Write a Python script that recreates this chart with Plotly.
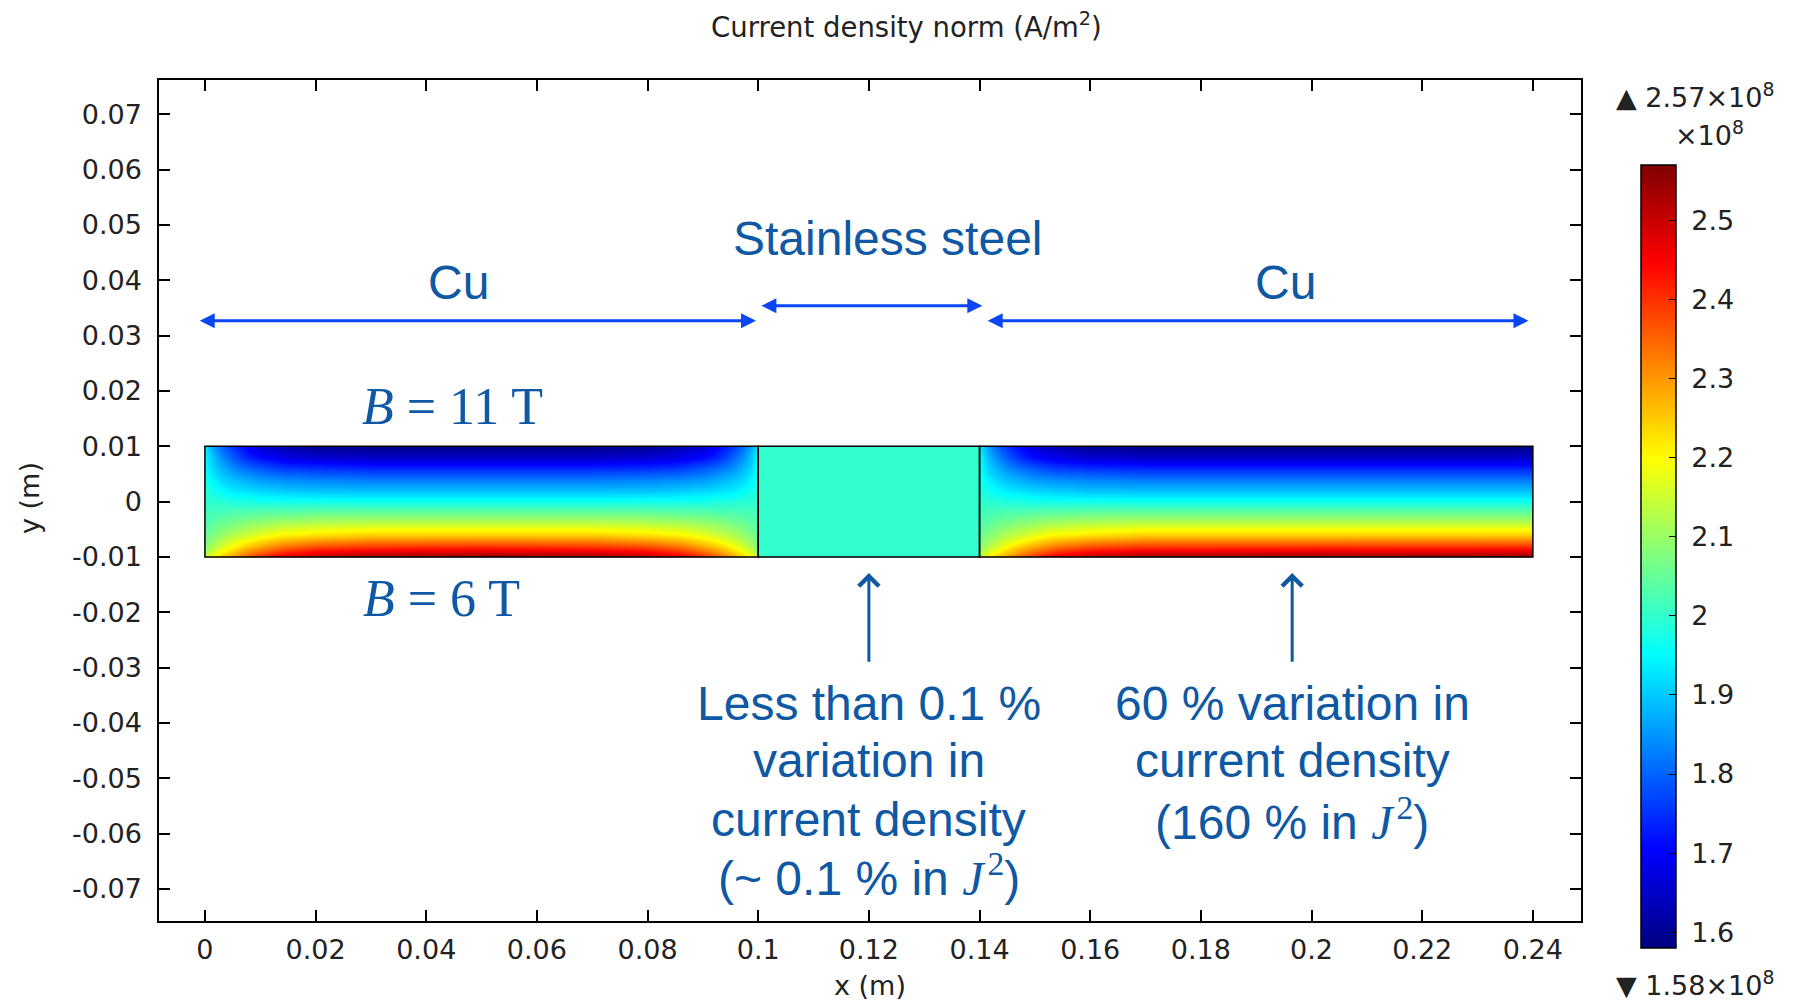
import plotly.graph_objects as go

# ---------------- data ----------------
x_tick_vals = [0, 0.02, 0.04, 0.06, 0.08, 0.1, 0.12, 0.14, 0.16, 0.18, 0.2, 0.22, 0.24]
x_tick_text = ["0", "0.02", "0.04", "0.06", "0.08", "0.1", "0.12", "0.14", "0.16", "0.18", "0.2", "0.22", "0.24"]
y_tick_vals = [-0.07, -0.06, -0.05, -0.04, -0.03, -0.02, -0.01, 0, 0.01, 0.02, 0.03, 0.04, 0.05, 0.06, 0.07]
y_tick_text = ["-0.07", "-0.06", "-0.05", "-0.04", "-0.03", "-0.02", "-0.01", "0",
               "0.01", "0.02", "0.03", "0.04", "0.05", "0.06", "0.07"]
cbar_tick_vals = [1.6, 1.7, 1.8, 1.9, 2.0, 2.1, 2.2, 2.3, 2.4, 2.5]
cbar_tick_text = ["1.6", "1.7", "1.8", "1.9", "2", "2.1", "2.2", "2.3", "2.4", "2.5"]
J_min = 1.58   # x1e8 A/m^2
J_max = 2.57

# geometry of the conductor
cu_left = (0.0, 0.1)
steel = (0.1, 0.14)
cu_right = (0.14, 0.24)
strip_y = (-0.01, 0.01)

# sampling levels across the strip (top -> bottom)
y_levels = [0.01, 0.008, 0.006, 0.004, 0.002, 0.0, -0.002, -0.004, -0.006, -0.008, -0.01]

# distance from a Cu end (interface) and J profile (x1e8, top -> bottom) read at that distance
end_dist = [0.0, 0.0015, 0.003, 0.005, 0.0075, 0.01, 0.014, 0.02, 0.03]
prof_d0 = [1.93, 1.95, 1.96, 1.97, 1.985, 2.00, 2.015, 2.03, 2.05, 2.08, 2.14]
prof_d1 = [1.86, 1.89, 1.91, 1.94, 1.965, 1.99, 2.02, 2.04, 2.08, 2.12, 2.20]
prof_d2 = [1.80, 1.84, 1.88, 1.91, 1.95, 1.99, 2.02, 2.06, 2.10, 2.16, 2.25]
prof_d3 = [1.75, 1.79, 1.84, 1.89, 1.93, 1.98, 2.03, 2.07, 2.13, 2.20, 2.30]
prof_d4 = [1.70, 1.74, 1.81, 1.87, 1.92, 1.98, 2.03, 2.09, 2.15, 2.25, 2.36]
prof_d5 = [1.66, 1.71, 1.79, 1.85, 1.91, 1.97, 2.04, 2.10, 2.18, 2.28, 2.41]
prof_d6 = [1.63, 1.68, 1.76, 1.84, 1.90, 1.97, 2.04, 2.12, 2.21, 2.33, 2.47]
prof_d7 = [1.60, 1.66, 1.75, 1.83, 1.89, 1.97, 2.05, 2.13, 2.23, 2.37, 2.52]
prof_d8 = [1.59, 1.65, 1.74, 1.82, 1.89, 1.965, 2.05, 2.14, 2.25, 2.39, 2.55]
end_profiles = [prof_d0, prof_d1, prof_d2, prof_d3, prof_d4, prof_d5, prof_d6, prof_d7, prof_d8]
interior_profile = [1.59, 1.65, 1.74, 1.82, 1.89, 1.965, 2.05, 2.14, 2.25, 2.40, 2.56]
steel_J = 2.0

# ---------------- styling ----------------
TEXT_BLUE = "#0E58A4"
ARROW_BLUE = "#0A46F5"
AX_FONT = dict(family="DejaVu Sans", size=27, color="#222222")
TITLE_FONT = dict(family="DejaVu Sans", size=27.5, color="#222222")
ANN_FONT = dict(family="Liberation Sans, Arial", size=48, color=TEXT_BLUE)
SERIF_FONT = dict(family="Liberation Serif, Times New Roman", size=52, color=TEXT_BLUE)

jet = [[0.0, "rgb(0,0,128)"], [0.125, "rgb(0,0,255)"], [0.375, "rgb(0,255,255)"],
       [0.625, "rgb(255,255,0)"], [0.875, "rgb(255,0,0)"], [1.0, "rgb(128,0,0)"]]

EPS = 1e-6


def padded(coords, cols):
    """Repeat the outer samples a hair inside the edges so the heatmap ends at the boundary."""
    c = [coords[0], coords[0] + EPS] + coords[1:-1] + [coords[-1] - EPS, coords[-1]]
    v = [cols[0]] + cols + [cols[-1]]
    return c, v


def block_heatmap(xs, cols, show_scale=False):
    ys = list(reversed(y_levels))
    cols_asc = [list(reversed(c)) for c in cols]
    xs_p, cols_p = padded(xs, cols_asc)
    rows = [[cols_p[j][i] for j in range(len(xs_p))] for i in range(len(ys))]
    ys_p, rows_p = padded(ys, rows)
    return go.Heatmap(
        x=xs_p, y=ys_p, z=rows_p, zmin=J_min, zmax=J_max, colorscale=jet,
        zsmooth="best", showscale=show_scale, hoverinfo="skip",
        colorbar=dict(
            thickness=35, thicknessmode="pixels", len=783, lenmode="pixels",
            x=(1641 - 159) / 1422, xanchor="left", y=(921 - 165) / 841, yanchor="top",
            xpad=0, ypad=0, outlinewidth=1.5, outlinecolor="black",
            ticks="inside", ticklen=7, tickwidth=1.2, tickcolor="black",
            tickvals=cbar_tick_vals, ticktext=["\u00a0" + t for t in cbar_tick_text],
            tickfont=AX_FONT,
        ),
    )


# left copper block: both ends redistribute current
left_x = [cu_left[0] + d for d in end_dist] + [(cu_left[0] + cu_left[1]) / 2] + \
         [cu_left[1] - d for d in reversed(end_dist)]
left_cols = end_profiles + [interior_profile] + list(reversed(end_profiles))

# right copper block: only the steel side redistributes
right_x = [cu_right[0] + d for d in end_dist] + [cu_right[1]]
right_cols = end_profiles + [interior_profile]

fig = go.Figure()
fig.add_trace(block_heatmap(left_x, left_cols, show_scale=True))
fig.add_trace(go.Heatmap(x=list(steel), y=list(strip_y), z=[[steel_J]], zmin=J_min, zmax=J_max,
                         colorscale=jet, showscale=False, hoverinfo="skip"))
fig.add_trace(block_heatmap(right_x, right_cols))

# block outlines
for (bx0, bx1) in [cu_left, steel, cu_right]:
    fig.add_shape(type="rect", xref="x", yref="y", x0=bx0, x1=bx1, y0=strip_y[0], y1=strip_y[1],
                  line=dict(color="black", width=1.5), fillcolor="rgba(0,0,0,0)")

ann = []
# material span arrows
spans = [(-0.0012, 0.0996, 0.0327), (0.1003, 0.1405, 0.0354), (0.1412, 0.2392, 0.0327)]
for (a0, a1, ya) in spans:
    ann.append(dict(x=a1, y=ya, ax=a0, ay=ya, xref="x", yref="y", axref="x", ayref="y",
                    text="", showarrow=True, arrowhead=2, startarrowhead=2, arrowside="end+start",
                    arrowwidth=3, arrowsize=1, startarrowsize=1, arrowcolor=ARROW_BLUE,
                    standoff=0, startstandoff=0))
# labels
ann.append(dict(x=0.0458, y=0.0396, text="Cu", font=ANN_FONT))
ann.append(dict(x=0.1234, y=0.0476, text="Stainless steel", font=ANN_FONT))
ann.append(dict(x=0.1953, y=0.0396, text="Cu", font=ANN_FONT))
ann.append(dict(x=0.0447, y=0.0172, text="<i>B</i> = 11 T", font=SERIF_FONT))
ann.append(dict(x=0.0427, y=-0.0176, text="<i>B</i> = 6 T", font=SERIF_FONT))

J2 = "<span style='font-family:Liberation Serif'><i>J</i>\u200a<sup>2</sup></span>"
left_lines = ["Less than 0.1 %", "variation in", "current density", "(~ 0.1 % in " + J2 + ")"]
right_lines = ["60 % variation in", "current density", "(160 % in " + J2 + ")"]
line_y = [-0.0364, -0.0468, -0.0574, -0.0674]
for i, t in enumerate(left_lines):
    ann.append(dict(x=0.12, y=line_y[i], text=t, font=ANN_FONT))
for i, t in enumerate(right_lines):
    ann.append(dict(x=0.1965, y=line_y[i], text=t, font=ANN_FONT))

# pointer arrows
for xa in [0.12, 0.1965]:
    ann.append(dict(x=xa, y=-0.0129, ax=xa, ay=-0.0292, xref="x", yref="y", axref="x", ayref="y",
                    text="", showarrow=True, arrowhead=4, arrowwidth=3, arrowsize=1.3,
                    arrowcolor=TEXT_BLUE, standoff=0))


def px_x(p):
    return (p - 159) / 1422


def px_y(p):
    return (921 - p) / 841


ann += [
    dict(x=px_x(906), y=px_y(25), xref="paper", yref="paper",
         text="Current density norm (A/m<sup>2</sup>)", font=TITLE_FONT),
    dict(x=px_x(1695), y=px_y(95), xref="paper", yref="paper",
         text="▲ 2.57×10<sup>8</sup>", font=AX_FONT),
    dict(x=px_x(1710), y=px_y(134), xref="paper", yref="paper",
         text="×10<sup>8</sup>", font=AX_FONT),
    dict(x=px_x(1695), y=px_y(983), xref="paper", yref="paper",
         text="▼ 1.58×10<sup>8</sup>", font=AX_FONT),
    dict(x=px_x(870), y=px_y(985), xref="paper", yref="paper",
         text="x (m)", font=AX_FONT),
    dict(x=px_x(29), y=px_y(498), xref="paper", yref="paper",
         text="y (m)", textangle=-90, font=AX_FONT),
]

for a in ann:
    a.setdefault("xref", "x")
    a.setdefault("yref", "y")
    a.setdefault("showarrow", False)
    a.setdefault("xanchor", "center")
    a.setdefault("yanchor", "middle")

axis_common = dict(showgrid=False, zeroline=False, showline=True, linecolor="black", linewidth=1.5,
                   mirror="ticks", ticks="inside", ticklen=11, tickwidth=1.5, tickcolor="black",
                   tickfont=AX_FONT)

fig.update_layout(
    width=1796, height=1000, autosize=False,
    margin=dict(l=159, r=215, t=80, b=79),
    paper_bgcolor="white", plot_bgcolor="white",
    showlegend=False,
    xaxis=dict(range=[-0.0083, 0.2487], tickvals=x_tick_vals, ticktext=x_tick_text,
               ticklabelstandoff=4, **axis_common),
    yaxis=dict(range=[-0.0758, 0.0762], tickvals=y_tick_vals, ticktext=y_tick_text,
               ticklabelstandoff=10, **axis_common),
    annotations=ann,
)

fig.write_html("out.html")
